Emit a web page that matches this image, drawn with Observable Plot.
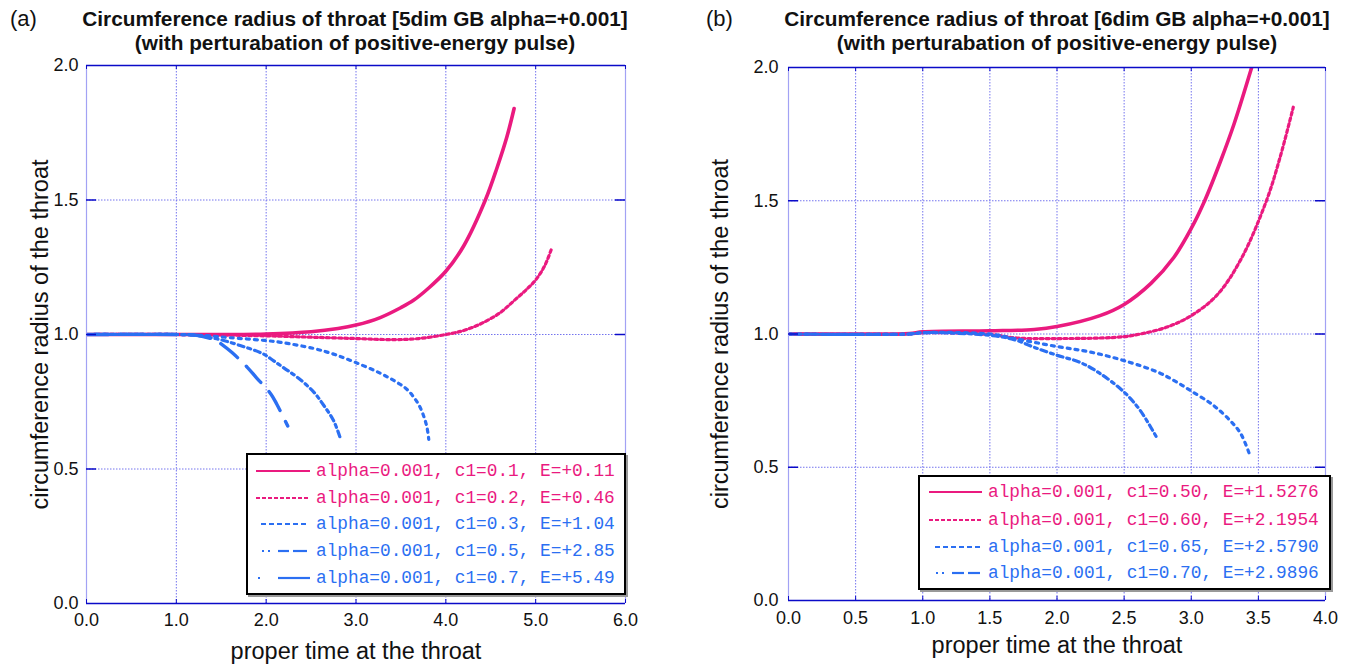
<!DOCTYPE html>
<html><head><meta charset="utf-8">
<script src="https://cdn.jsdelivr.net/npm/d3@7"></script>
<script src="https://cdn.jsdelivr.net/npm/@observablehq/plot@0.6"></script>
<style>
body{margin:0;background:#fff;}
#root{position:relative;width:1353px;height:664px;overflow:hidden;font-family:"Liberation Sans",Arial,sans-serif;color:#111;}
.tag{position:absolute;top:7px;font-size:22px;line-height:24px;z-index:3;}
.title{position:absolute;top:7px;font-weight:bold;font-size:20.8px;line-height:24px;text-align:center;white-space:nowrap;transform:translateX(-50%);z-index:3;}
.plotwrap{position:absolute;top:50px;z-index:1;}
.legend{position:absolute;background:#fff;border:2px solid #000;box-shadow:2px 2px 0 #999;box-sizing:border-box;z-index:2;}
.row{position:absolute;left:0;width:100%;height:26px;line-height:26px;white-space:nowrap;font-family:"Liberation Mono","Courier New",monospace;font-size:17.8px;}
.row svg{position:absolute;top:0;left:0;}
.row span{position:absolute;top:0;}
</style>
</head><body><div id="root"></div>
<script>
// ---------- data ----------
const PINK = "#ea1a7f";
const BLUE = "#2b6ff2";

// panel (a): 5dim GB
const aTitle1 = "Circumference radius of throat [5dim GB alpha=+0.001]";
const aTitle2 = "(with perturabation of positive-energy pulse)";
const aXTicks = [0, 1, 2, 3, 4, 5, 6];
const aYTicks = [0, 0.5, 1.0, 1.5, 2.0];
const aLabels = ["alpha=0.001, c1=0.1, E=+0.11", "alpha=0.001, c1=0.2, E=+0.46", "alpha=0.001, c1=0.3, E=+1.04", "alpha=0.001, c1=0.5, E=+2.85", "alpha=0.001, c1=0.7, E=+5.49"];
const aT1 = [0, 0.5, 1.0, 1.5, 2.0, 2.5, 2.8, 3.0, 3.27, 3.5, 3.64, 3.8, 4.0, 4.2, 4.44, 4.57, 4.68, 4.76];
const aR1 = [1.0, 1.0, 1.0, 1.0, 1.002, 1.01, 1.022, 1.035, 1.063, 1.1, 1.127, 1.17, 1.235, 1.33, 1.5, 1.62, 1.735, 1.84];
const aT2 = [0, 1.0, 2.0, 2.5, 3.0, 3.4, 3.7, 4.0, 4.2, 4.39, 4.6, 4.76, 4.9, 5.0, 5.1, 5.18];
const aR2 = [1.0, 1.0, 0.995, 0.99, 0.985, 0.981, 0.985, 1.0, 1.015, 1.04, 1.08, 1.126, 1.168, 1.203, 1.255, 1.322];
const aT3 = [0, 1.0, 1.2, 1.4, 1.6, 1.98, 2.16, 2.53, 2.75, 2.98, 3.27, 3.49, 3.58, 3.64, 3.70, 3.75, 3.79, 3.81];
const aR3 = [1.0, 1.0, 0.998, 0.994, 0.988, 0.978, 0.971, 0.948, 0.927, 0.898, 0.856, 0.815, 0.792, 0.768, 0.738, 0.70, 0.655, 0.61];
const aT4 = [0, 1.0, 1.2, 1.35, 1.5, 1.71, 1.96, 2.08, 2.2, 2.35, 2.53, 2.64, 2.75, 2.82];
const aR4 = [1.0, 1.0, 0.998, 0.99, 0.98, 0.959, 0.929, 0.903, 0.875, 0.84, 0.786, 0.737, 0.68, 0.62];
const aT5 = [0, 1.0, 1.2, 1.3, 1.42, 1.52, 1.62, 1.79, 1.89, 2.05, 2.12, 2.24];
const aR5 = [1.0, 1.0, 0.998, 0.992, 0.981, 0.96, 0.933, 0.878, 0.84, 0.78, 0.74, 0.66];

// panel (b): 6dim GB
const bTitle1 = "Circumference radius of throat [6dim GB alpha=+0.001]";
const bTitle2 = "(with perturabation of positive-energy pulse)";
const bXTicks = [0, 0.5, 1.0, 1.5, 2.0, 2.5, 3.0, 3.5, 4.0];
const bYTicks = [0, 0.5, 1.0, 1.5, 2.0];
const bLabels = ["alpha=0.001, c1=0.50, E=+1.5276", "alpha=0.001, c1=0.60, E=+2.1954", "alpha=0.001, c1=0.65, E=+2.5790", "alpha=0.001, c1=0.70, E=+2.9896"];
const bT1 = [0, 0.5, 0.9, 1.0, 1.5, 1.83, 2.0, 2.32, 2.5, 2.7, 2.87, 3.0, 3.1, 3.22, 3.32, 3.45];
const bR1 = [1.0, 1.0, 1.002, 1.008, 1.012, 1.017, 1.028, 1.069, 1.111, 1.19, 1.287, 1.396, 1.5, 1.651, 1.79, 2.0];
const bT2 = [0, 0.9, 1.0, 1.5, 1.7, 2.0, 2.32, 2.5, 2.62, 2.82, 3.0, 3.19, 3.37, 3.56, 3.66, 3.76];
const bR2 = [1.0, 1.0, 1.005, 0.998, 0.985, 0.983, 0.985, 0.99, 1.0, 1.026, 1.069, 1.145, 1.28, 1.5, 1.66, 1.851];
const bT3 = [0, 0.9, 1.0, 1.5, 1.68, 2.0, 2.25, 2.5, 2.75, 2.88, 3.0, 3.13, 3.19, 3.29, 3.37, 3.44];
const bR3 = [1.0, 1.0, 1.005, 1.0, 0.983, 0.953, 0.932, 0.90, 0.857, 0.823, 0.786, 0.745, 0.722, 0.675, 0.625, 0.54];
const bT4 = [0, 0.9, 1.0, 1.5, 1.68, 1.83, 2.0, 2.17, 2.32, 2.5, 2.62, 2.75];
const bR4 = [1.0, 1.0, 1.005, 0.995, 0.979, 0.95, 0.92, 0.894, 0.852, 0.782, 0.713, 0.605];

const xLabel = "proper time at the throat";
const yLabel = "circumference radius of the throat";

// ---------- styles ----------
const GRID = "#7474ee";
const DARK = "#0a0ac8";
const LIGHT = "#a2a2f4";

const aSeries = [
  {t: aT1, r: aR1, color: PINK, dash: null, w: 3.6},
  {t: aT2, r: aR2, color: PINK, dash: "3,3", w: 3.2},
  {t: aT3, r: aR3, color: BLUE, dash: "3,5", w: 3.2},
  {t: aT4, r: aR4, color: BLUE, dash: "6,4,3,4", w: 3.2},
  {t: aT5, r: aR5, color: BLUE, dash: "22,12", w: 3.4}
];
const bSeries = [
  {t: bT1, r: bR1, color: PINK, dash: null, w: 3.6},
  {t: bT2, r: bR2, color: PINK, dash: "3,3", w: 3.2},
  {t: bT3, r: bR3, color: BLUE, dash: "3,5", w: 3.2},
  {t: bT4, r: bR4, color: BLUE, dash: "6,4,3,4", w: 3.2}
];
// legend sample segments [x1,x2] relative to the box
const aSamples = [
  {segs: [[10, 64]], dash: null},
  {segs: [[10, 64]], dash: "4,2"},
  {segs: [[15, 61]], dash: "5,3"},
  {segs: [[16, 18], [22, 24], [32, 43], [47, 61]], dash: null},
  {segs: [[12, 14], [32, 64]], dash: null}
];
const bSamples = [
  {segs: [[11, 64]], dash: null},
  {segs: [[11, 64]], dash: "4,2"},
  {segs: [[17, 62]], dash: "5,3"},
  {segs: [[18, 20], [24, 26], [34, 46], [50, 62]], dash: null}
];
const aColors = [PINK, PINK, BLUE, BLUE, BLUE];
const bColors = [PINK, PINK, BLUE, BLUE];

function panel(cfg) {
  const W = cfg.width, H = 614;
  const pw = W - cfg.ml - cfg.mr, ph = H - cfg.mt - cfg.mb;
  const xmax = cfg.xTicks[cfg.xTicks.length - 1];
  const inner = (arr) => arr.slice(1, -1);
  const lines = cfg.series.map(s => Plot.line(s.t.map((t, i) => ({t, r: s.r[i]})), {
    x: "t", y: "r", stroke: s.color, strokeWidth: s.w, strokeDasharray: s.dash,
    curve: "catmull-rom", clip: true
  }));
  return Plot.plot({
    width: W, height: H,
    marginLeft: cfg.ml, marginRight: cfg.mr, marginTop: cfg.mt, marginBottom: cfg.mb,
    x: {domain: [0, xmax], ticks: cfg.xTicks, tickFormat: d => d.toFixed(1), tickSize: 0, tickPadding: cfg.xpad, label: null},
    y: {domain: [0, 2], ticks: cfg.yTicks, tickFormat: d => d.toFixed(1), tickSize: 0, tickPadding: cfg.ypad, label: null},
    style: {fontFamily: "'Liberation Sans', Arial, sans-serif", fontSize: "18px", color: "#111", background: "transparent", overflow: "visible"},
    marks: [
      Plot.ruleX(inner(cfg.xTicks), {stroke: GRID, strokeDasharray: "1.5,1.5"}),
      Plot.ruleY(inner(cfg.yTicks), {stroke: GRID, strokeDasharray: "1.5,1.5"}),
      ...lines,
      Plot.ruleX([0, xmax], {stroke: LIGHT, strokeWidth: 1.2}),
      Plot.tickX(cfg.xTicks, {x: d => d, insetTop: ph - 4, stroke: DARK}),
      Plot.tickX(cfg.xTicks, {x: d => d, insetBottom: ph - 4, stroke: DARK}),
      Plot.tickY(inner(cfg.yTicks), {y: d => d, insetRight: pw - 10, stroke: DARK, strokeWidth: 1.5}),
      Plot.tickY(inner(cfg.yTicks), {y: d => d, insetLeft: pw - 10, stroke: DARK, strokeWidth: 1.5}),
      Plot.ruleY([0, 2], {stroke: DARK, strokeWidth: 1.5}),
      Plot.text([xLabel], {frameAnchor: "bottom", dy: cfg.xlabDy, fontSize: 23.5, textAnchor: "middle", lineAnchor: "middle", text: d => d, fill: "#111"}),
      Plot.text([yLabel], {frameAnchor: "left", dx: cfg.ylabDx, rotate: -90, fontSize: 23.5, textAnchor: "middle", lineAnchor: "middle", text: d => d, fill: "#111"})
    ]
  });
}

function legend(root, box, labels, colors, samples, rows) {
  const div = document.createElement("div");
  div.className = "legend";
  Object.assign(div.style, {left: box.x + "px", top: box.y + "px", width: box.w + "px", height: box.h + "px"});
  labels.forEach((lab, i) => {
    const row = document.createElement("div");
    row.className = "row";
    row.style.top = (rows[i] - 2 - 13) + "px";
    const ns = "http://www.w3.org/2000/svg";
    const svg = document.createElementNS(ns, "svg");
    svg.setAttribute("width", 70); svg.setAttribute("height", 26);
    samples[i].segs.forEach(([x1, x2]) => {
      const ln = document.createElementNS(ns, "line");
      ln.setAttribute("x1", x1 - 2); ln.setAttribute("x2", x2 - 2);
      ln.setAttribute("y1", 13); ln.setAttribute("y2", 13);
      ln.setAttribute("stroke", colors[i]); ln.setAttribute("stroke-width", 2.2);
      if (samples[i].dash) ln.setAttribute("stroke-dasharray", samples[i].dash);
      svg.appendChild(ln);
    });
    row.appendChild(svg);
    const sp = document.createElement("span");
    sp.textContent = lab;
    sp.style.left = (70 - 2) + "px";
    sp.style.color = colors[i];
    row.appendChild(sp);
    div.appendChild(row);
  });
  root.appendChild(div);
}

const root = document.getElementById("root");
function addText(cls, txt, left) {
  const d = document.createElement("div");
  d.className = cls; d.textContent = txt; d.style.left = left + "px";
  root.appendChild(d); return d;
}

const wa = document.createElement("div"); wa.className = "plotwrap"; wa.style.left = "0px";
wa.appendChild(panel({width: 676, ml: 86, mr: 51, mt: 15, mb: 61, xTicks: aXTicks, yTicks: aYTicks, series: aSeries, ypad: 8, xpad: 10, xlabDy: 48, ylabDx: -46}));
root.appendChild(wa);
const wb = document.createElement("div"); wb.className = "plotwrap"; wb.style.left = "676px";
wb.appendChild(panel({width: 677, ml: 112, mr: 28, mt: 17, mb: 64, xTicks: bXTicks, yTicks: bYTicks, series: bSeries, ypad: 10, xpad: 11, xlabDy: 45, ylabDx: -68}));
root.appendChild(wb);

addText("tag", "(a)", 10);
addText("tag", "(b)", 706);
const t1 = addText("title", "", 355); t1.innerHTML = aTitle1 + "<br>" + aTitle2;
const t2 = addText("title", "", 1057); t2.innerHTML = bTitle1 + "<br>" + bTitle2;

legend(root, {x: 246, y: 453, w: 380, h: 142}, aLabels, aColors, aSamples, [18, 45, 71, 98, 125]);
legend(root, {x: 918, y: 475, w: 413, h: 115}, bLabels, bColors, bSamples, [17, 45, 72, 98]);
</script></body></html>
